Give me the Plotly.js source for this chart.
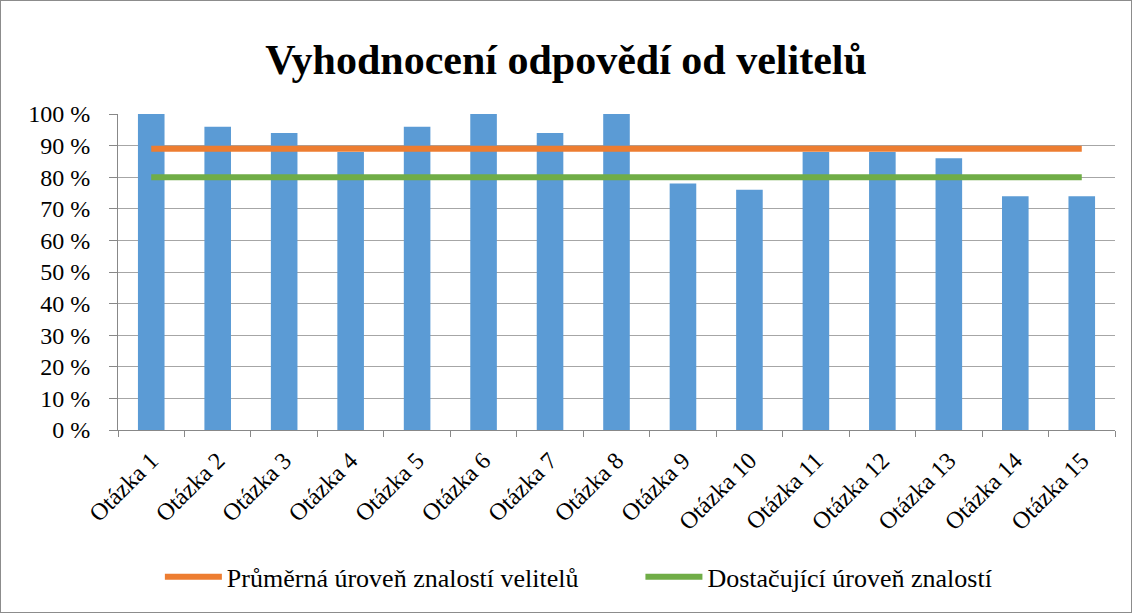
<!DOCTYPE html>
<html>
<head>
<meta charset="utf-8">
<script src="https://cdn.plot.ly/plotly-3.0.1.min.js"></script>
<style>
html,body{margin:0;padding:0;background:#fff;}
#chart{width:1130px;height:611px;border:1px solid #8c8c8c;}
</style>
</head>
<body>
<div id="chart"></div>
<script>
const categories = ["Otázka 1","Otázka 2","Otázka 3","Otázka 4","Otázka 5","Otázka 6","Otázka 7","Otázka 8","Otázka 9","Otázka 10","Otázka 11","Otázka 12","Otázka 13","Otázka 14","Otázka 15"];
const answers = [100,96,94,88,96,100,94,100,78,76,88,88,86,74,74];
const averageLevel = [89,89,89,89,89,89,89,89,89,89,89,89,89,89,89];
const sufficientLevel = [80,80,80,80,80,80,80,80,80,80,80,80,80,80,80];
const yTicks = [0,10,20,30,40,50,60,70,80,90,100];

const font = "Liberation Serif";
const traces = [
  {type:'bar', x:categories, y:answers, marker:{color:'#5B9BD5'}, width:0.4, showlegend:false, hoverinfo:'skip'},
  {type:'scatter', mode:'lines', x:categories, y:averageLevel, name:'Průměrná úroveň znalostí velitelů',
   line:{color:'#ED7D31', width:6}, legend:'legend'},
  {type:'scatter', mode:'lines', x:categories, y:sufficientLevel, name:'Dostačující úroveň znalostí',
   line:{color:'#70AD47', width:6}, legend:'legend2'}
];
const legendBase = {orientation:'h', xanchor:'left', y:-0.465, yanchor:'middle', font:{size:26, family:font},
                    bgcolor:'rgba(0,0,0,0)', itemwidth:57};
const layout = {
  width:1130, height:611,
  margin:{l:117, r:16, t:113, b:180},
  paper_bgcolor:'#fff', plot_bgcolor:'#fff',
  font:{family:font, color:'#000', size:24},
  title:{text:'<b>Vyhodnocení odpovědí od velitelů</b>', font:{family:font, size:42, color:'#000'},
         x:0.5, xanchor:'center', y:0.905, yanchor:'middle'},
  xaxis:{type:'category', tickangle:-45, tickson:'boundaries', ticks:'outside', ticklen:6, tickcolor:'#888',
         showline:true, linecolor:'#888', linewidth:1, showgrid:false, tickfont:{size:24, family:font},
         range:[-0.5,14.5], ticklabelstandoff:6},
  yaxis:{range:[0,100], tickvals:yTicks, ticktext:yTicks.map(v=>v+' %'), ticks:'outside', ticklen:8, tickcolor:'#888',
         showline:true, linecolor:'#888', linewidth:1, showgrid:true, gridcolor:'#a6a6a6', gridwidth:1,
         zeroline:false, tickfont:{size:24, family:font}, ticklabelstandoff:14},
  legend:Object.assign({}, legendBase, {x:0.042}),
  legend2:Object.assign({}, legendBase, {x:0.524}),
  bargap:0.6
};
Plotly.newPlot('chart', traces, layout, {displayModeBar:false, staticPlot:true});
</script>
</body>
</html>
